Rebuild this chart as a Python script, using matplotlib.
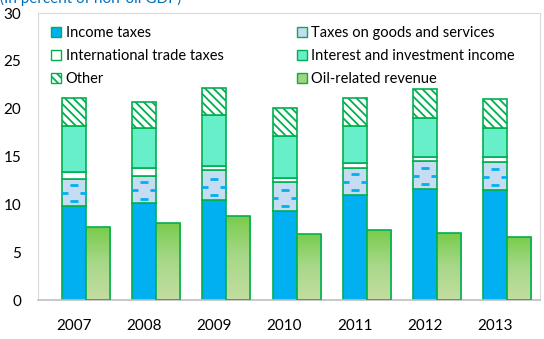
import numpy as np
import matplotlib
matplotlib.use("Agg")
import matplotlib.pyplot as plt
from matplotlib.patches import Patch

plt.rcParams['font.family'] = ['Lato', 'DejaVu Sans']
plt.rcParams['hatch.linewidth'] = 1.3

years = ['2007', '2008', '2009', '2010', '2011', '2012', '2013']
# segments (cumulative tops differenced)
income = np.array([9.8, 10.1, 10.5, 9.3, 11.0, 11.6, 11.5])
goods = np.array([2.8, 2.9, 3.1, 3.0, 2.8, 2.9, 2.9])
trade = np.array([0.8, 0.8, 0.4, 0.5, 0.5, 0.5, 0.5])
interest = np.array([4.8, 4.2, 5.3, 4.3, 3.9, 4.0, 3.1])
other = np.array([2.9, 2.7, 2.9, 3.0, 2.9, 3.1, 3.0])
oil = np.array([7.6, 8.1, 8.8, 6.9, 7.3, 7.0, 6.6])

edge = '#00B050'
c_income = '#00B0F0'
c_goods = '#C5DCF2'
c_interest = '#66EFC8'
c_oil_top = '#79CC4C'
c_oil_bot = '#C3DDA0'

fig = plt.figure(figsize=(5.44, 3.39), dpi=100)
ax = fig.add_axes([38/544, 1-300/339, 502/544, 287/339])

x = np.arange(len(years))
w = 0.342

b1 = ax.bar(x, income, w, color=c_income, edgecolor=edge, lw=1.2, zorder=2)
b2 = ax.bar(x, goods, w, bottom=income, color=c_goods, edgecolor=edge, lw=1.2, zorder=2)
bot = income + goods
b3 = ax.bar(x, trade, w, bottom=bot, color='white', edgecolor=edge, lw=1.2, zorder=2)
bot = bot + trade
b4 = ax.bar(x, interest, w, bottom=bot, color=c_interest, edgecolor=edge, lw=1.2, zorder=2)
bot = bot + interest
b5 = ax.bar(x, other, w, bottom=bot, color='white', edgecolor=edge, lw=1.2,
            hatch='\\\\\\\\', zorder=2)

# dashes inside the goods segments
for rect in b2:
    x0, y0 = rect.get_x(), rect.get_y()
    ww, hh = rect.get_width(), rect.get_height()
    rows = np.arange(y0 + 0.5, y0 + hh - 0.2, 0.85)
    for k, yy in enumerate(rows):
        if k % 2 == 0:
            cols = np.array([x0 + ww * 0.5])
        else:
            cols = np.array([x0 + ww * 0.08, x0 + ww * 0.92])
        sc = ax.scatter(cols, np.full_like(cols, yy), marker='_', s=28,
                        color=c_income, linewidths=2, zorder=3)
        sc.set_clip_path(rect)

# oil bars with a vertical gradient
b6 = ax.bar(x + w, oil, w, color='none', edgecolor=edge, lw=1.2, zorder=4)
cmap = matplotlib.colors.LinearSegmentedColormap.from_list(
    'oil', [c_oil_bot, '#A8D88A', c_oil_top])
for rect in b6:
    x0, h = rect.get_x(), rect.get_height()
    grad = np.linspace(0, 1, 100).reshape(-1, 1)
    im = ax.imshow(grad, cmap=cmap, origin='lower', aspect='auto',
                   extent=[x0, x0 + w, 0, h], zorder=3)
    im.set_clip_path(rect)

ax.set_xlim(-0.513, 6.64)
ax.set_ylim(0, 30)
ax.set_yticks([0, 5, 10, 15, 20, 25, 30])
ax.set_xticks(x)
ax.set_xticklabels(years)
ax.tick_params(length=0, labelsize=11, colors='black')
ax.tick_params(axis='x', pad=14)
ax.tick_params(axis='y', pad=12)
for s in ['top', 'right', 'left']:
    ax.spines[s].set_color('#D9D9D9')
ax.spines['bottom'].set_color('#BFBFBF')
ax.spines['bottom'].set_linewidth(1.2)

handles = [
    Patch(facecolor=c_income, edgecolor=edge, label='Income taxes'),
    Patch(facecolor='white', edgecolor=edge, label='International trade taxes'),
    Patch(facecolor='white', edgecolor=edge, hatch='\\\\\\\\', label='Other'),
    Patch(facecolor=c_goods, edgecolor=edge, label='Taxes on goods and services'),
    Patch(facecolor=c_interest, edgecolor=edge, label='Interest and investment income'),
    Patch(facecolor='#9ED47A', edgecolor=edge, label='Oil-related revenue'),
]
ax.legend(handles=handles, ncol=2, frameon=False, loc='upper left',
          bbox_to_anchor=(0.0, 1.0), fontsize=10.5, handlelength=0.7,
          handleheight=0.7, handletextpad=0.3, columnspacing=5.0,
          labelspacing=0.62)

fig.text(0.0, 1.005, '(In percent of non-oil GDP)', color='#0070C0',
         fontsize=11, va='center', ha='left')

fig.savefig('out.png', dpi=100)
